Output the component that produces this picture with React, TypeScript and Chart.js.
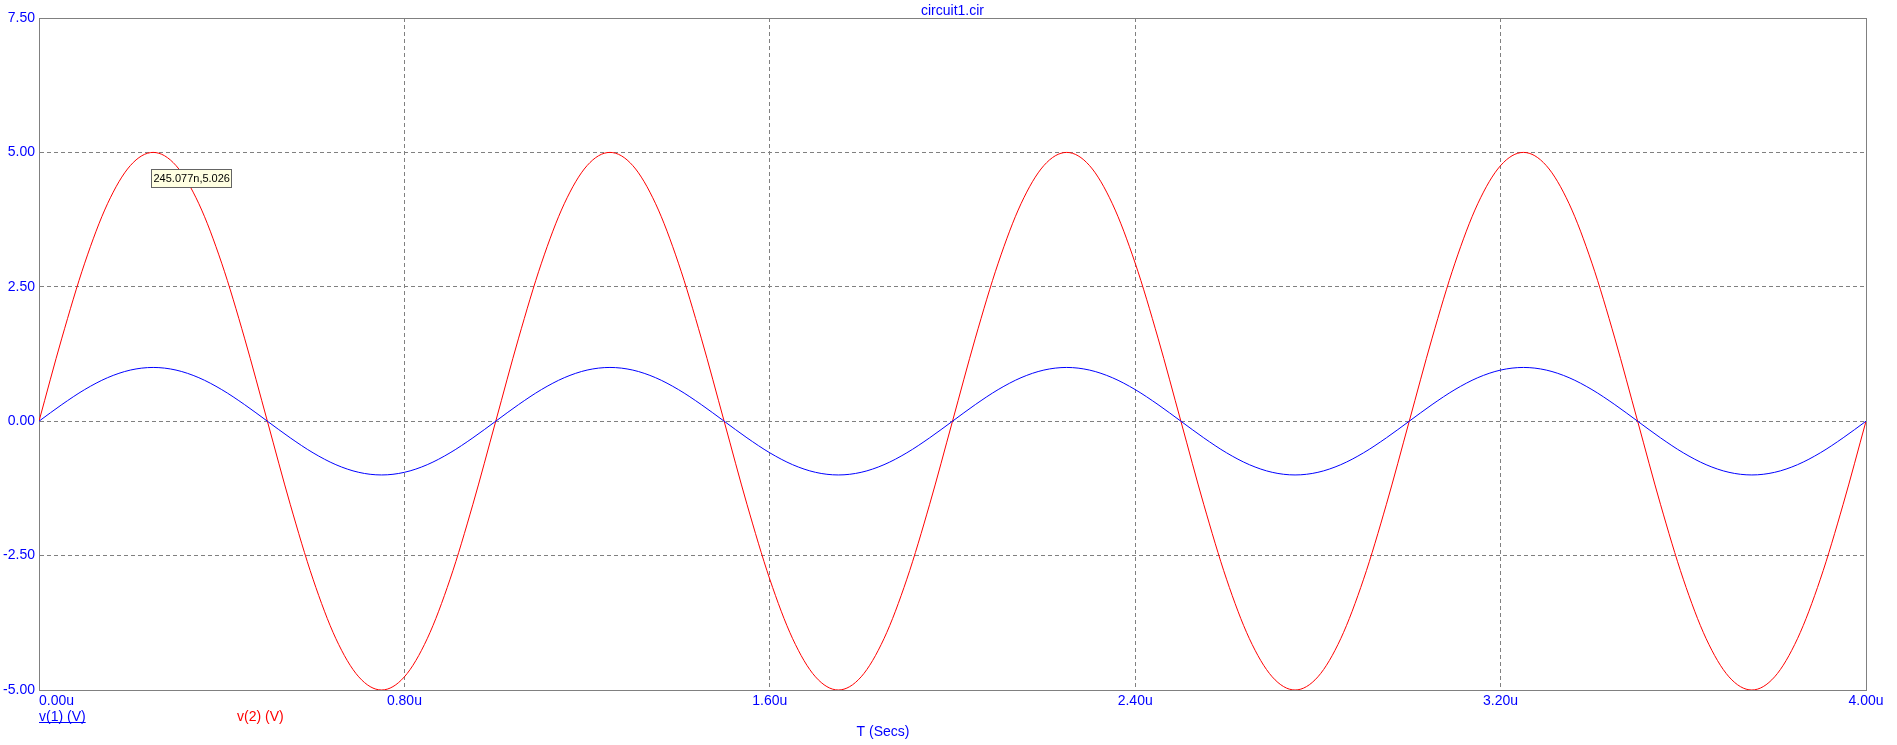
import React, { useEffect, useRef } from "react";
import { Chart, registerables } from "chart.js";

Chart.register(...registerables);

const TITLE = "circuit1.cir";
const X_TITLE = "T (Secs)";
const SERIES_LABELS = ["v(1) (V)", "v(2) (V)"];
const SERIES_COLORS = ["#0000ff", "#ff0000"];

// time in microseconds
const T_US = [
  0.0, 0.05, 0.1, 0.15, 0.2, 0.25, 0.3, 0.35, 0.4, 0.45, 0.5, 0.55, 0.6, 0.65, 0.7, 0.75, 0.8, 0.85, 0.9, 0.95,
  1.0, 1.05, 1.1, 1.15, 1.2, 1.25, 1.3, 1.35, 1.4, 1.45, 1.5, 1.55, 1.6, 1.65, 1.7, 1.75, 1.8, 1.85, 1.9, 1.95,
  2.0, 2.05, 2.1, 2.15, 2.2, 2.25, 2.3, 2.35, 2.4, 2.45, 2.5, 2.55, 2.6, 2.65, 2.7, 2.75, 2.8, 2.85, 2.9, 2.95,
  3.0, 3.05, 3.1, 3.15, 3.2, 3.25, 3.3, 3.35, 3.4, 3.45, 3.5, 3.55, 3.6, 3.65, 3.7, 3.75, 3.8, 3.85, 3.9, 3.95,
  4.0,
];

const V1 = [
  0, 0.309, 0.588, 0.809, 0.951, 1.0, 0.951, 0.809, 0.588, 0.309, 0, -0.309, -0.588, -0.809, -0.951, -1.0, -0.951, -0.809, -0.588, -0.309,
  0, 0.309, 0.588, 0.809, 0.951, 1.0, 0.951, 0.809, 0.588, 0.309, 0, -0.309, -0.588, -0.809, -0.951, -1.0, -0.951, -0.809, -0.588, -0.309,
  0, 0.309, 0.588, 0.809, 0.951, 1.0, 0.951, 0.809, 0.588, 0.309, 0, -0.309, -0.588, -0.809, -0.951, -1.0, -0.951, -0.809, -0.588, -0.309,
  0, 0.309, 0.588, 0.809, 0.951, 1.0, 0.951, 0.809, 0.588, 0.309, 0, -0.309, -0.588, -0.809, -0.951, -1.0, -0.951, -0.809, -0.588, -0.309,
  0,
];

const V2 = [
  0, 1.545, 2.939, 4.045, 4.755, 5.0, 4.755, 4.045, 2.939, 1.545, 0, -1.545, -2.939, -4.045, -4.755, -5.0, -4.755, -4.045, -2.939, -1.545,
  0, 1.545, 2.939, 4.045, 4.755, 5.0, 4.755, 4.045, 2.939, 1.545, 0, -1.545, -2.939, -4.045, -4.755, -5.0, -4.755, -4.045, -2.939, -1.545,
  0, 1.545, 2.939, 4.045, 4.755, 5.0, 4.755, 4.045, 2.939, 1.545, 0, -1.545, -2.939, -4.045, -4.755, -5.0, -4.755, -4.045, -2.939, -1.545,
  0, 1.545, 2.939, 4.045, 4.755, 5.0, 4.755, 4.045, 2.939, 1.545, 0, -1.545, -2.939, -4.045, -4.755, -5.0, -4.755, -4.045, -2.939, -1.545,
  0,
];

const X_TICKS = [0, 0.8, 1.6, 2.4, 3.2, 4.0];
const Y_TICKS = [-5, -2.5, 0, 2.5, 5, 7.5];
const MARKER_T = 0.245077;
const MARKER_V = 5.026;
const MARKER_TEXT = "245.077n,5.026";

const FONT = "'Liberation Sans', Arial, sans-serif";
const AXIS_BLUE = "#0000ff";
const FRAME = "#808080";

const firstLabelLeft = {
  id: "firstLabelLeft",
  beforeDraw(chart: any) {
    const s: any = chart.scales.x;
    try {
      const items = s.getLabelItems(chart.chartArea);
      if (items && items[0]) items[0].options.textAlign = "left";
    } catch (e) {
      /* ignore */
    }
  },
};

const framePlugin = {
  id: "frame",
  beforeDatasetsDraw(chart: any) {
    const { ctx, chartArea } = chart;
    ctx.save();
    ctx.strokeStyle = FRAME;
    ctx.lineWidth = 1;
    const l = Math.round(chartArea.left) + 0.5;
    const t = Math.round(chartArea.top) + 0.5;
    const r = Math.round(chartArea.right) + 0.5;
    const b = Math.round(chartArea.bottom) + 0.5;
    ctx.strokeRect(l, t, r - l, b - t);
    ctx.restore();
  },
};

const extrasPlugin = {
  id: "extras",
  afterDraw(chart: any) {
    const { ctx } = chart;
    const ds = chart.data.datasets;
    ctx.save();
    ctx.font = `14px ${FONT}`;
    ctx.textBaseline = "middle";
    ctx.textAlign = "left";
    // legend
    const legendX = [39, 237];
    ds.forEach((d: any, i: number) => {
      ctx.fillStyle = d.borderColor;
      ctx.fillText(d.label, legendX[i], 717);
      if (i === 0) {
        const w = ctx.measureText(d.label).width;
        ctx.strokeStyle = d.borderColor;
        ctx.lineWidth = 1;
        ctx.beginPath();
        ctx.moveTo(legendX[i], 722.5);
        ctx.lineTo(legendX[i] + w, 722.5);
        ctx.stroke();
      }
    });
    // x axis title
    ctx.fillStyle = AXIS_BLUE;
    ctx.textAlign = "center";
    ctx.fillText(X_TITLE, 883, 732);

    // marker label
    const px = chart.scales.x.getPixelForValue(MARKER_T);
    const py = chart.scales.y.getPixelForValue(MARKER_V);
    ctx.font = `11px ${FONT}`;
    const tw = ctx.measureText(MARKER_TEXT).width;
    const bx = Math.round(px) + 0.5;
    const by = Math.round(py + 18) + 0.5;
    const bw = Math.round(tw + 4);
    const bh = 18;
    ctx.fillStyle = "#ffffe1";
    ctx.fillRect(bx, by, bw, bh);
    ctx.strokeStyle = "#646464";
    ctx.strokeRect(bx, by, bw, bh);
    ctx.fillStyle = "#000000";
    ctx.textAlign = "left";
    ctx.fillText(MARKER_TEXT, bx + 2, by + bh / 2 + 0.5);
    ctx.restore();
  },
};

export default function App() {
  const ref = useRef<HTMLCanvasElement | null>(null);

  useEffect(() => {
    document.body.style.margin = "0";
    const canvas = ref.current;
    if (!canvas) return;
    const series = [V1, V2];
    const chart = new Chart(canvas, {
      type: "line",
      data: {
        datasets: series.map((vals, i) => ({
          label: SERIES_LABELS[i],
          data: T_US.map((t, k) => ({ x: t, y: vals[k] })),
          borderColor: SERIES_COLORS[i],
          backgroundColor: SERIES_COLORS[i],
          borderWidth: 1,
          pointRadius: 0,
          fill: false,
          cubicInterpolationMode: "monotone" as const,
        })),
      },
      options: {
        responsive: false,
        animation: false,
        events: [],
        layout: { padding: { top: 0, left: 0, right: 31, bottom: 0 } },
        plugins: {
          legend: { display: false },
          tooltip: { enabled: false },
          title: {
            display: true,
            text: TITLE,
            color: AXIS_BLUE,
            fullSize: false,
            font: { family: FONT, size: 14, weight: "normal", lineHeight: 1 },
            padding: { top: 4, bottom: 0 },
          },
        },
        scales: {
          x: {
            type: "linear",
            min: 0,
            max: 4,
            afterBuildTicks: (s: any) => {
              s.ticks = X_TICKS.map((v) => ({ value: v }));
            },
            afterFit: (s: any) => {
              s.height = 55;
            },
            ticks: {
              color: AXIS_BLUE,
              font: { family: FONT, size: 14 },
              padding: 3,
              maxRotation: 0,
              autoSkip: false,
              callback: (v: any) => Number(v).toFixed(2) + "u",
            },
            grid: { color: FRAME, lineWidth: 1, drawTicks: false },
            border: { display: true, color: FRAME, dash: [4, 3] },
          },
          y: {
            type: "linear",
            min: -5,
            max: 7.5,
            afterBuildTicks: (s: any) => {
              s.ticks = Y_TICKS.map((v) => ({ value: v }));
            },
            afterFit: (s: any) => {
              s.width = 39;
            },
            ticks: {
              color: AXIS_BLUE,
              font: { family: FONT, size: 14 },
              padding: 4,
              callback: (v: any) => Number(v).toFixed(2),
            },
            grid: { color: FRAME, lineWidth: 1, drawTicks: false },
            border: { display: true, color: FRAME, dash: [4, 3] },
          },
        },
      },
      plugins: [firstLabelLeft, framePlugin, extrasPlugin],
    });
    return () => chart.destroy();
  }, []);

  return (
    <div style={{ position: "absolute", left: 0, top: 0, width: 1897, height: 745, background: "#ffffff" }}>
      <canvas ref={ref} width={1897} height={745} style={{ display: "block" }} />
    </div>
  );
}
